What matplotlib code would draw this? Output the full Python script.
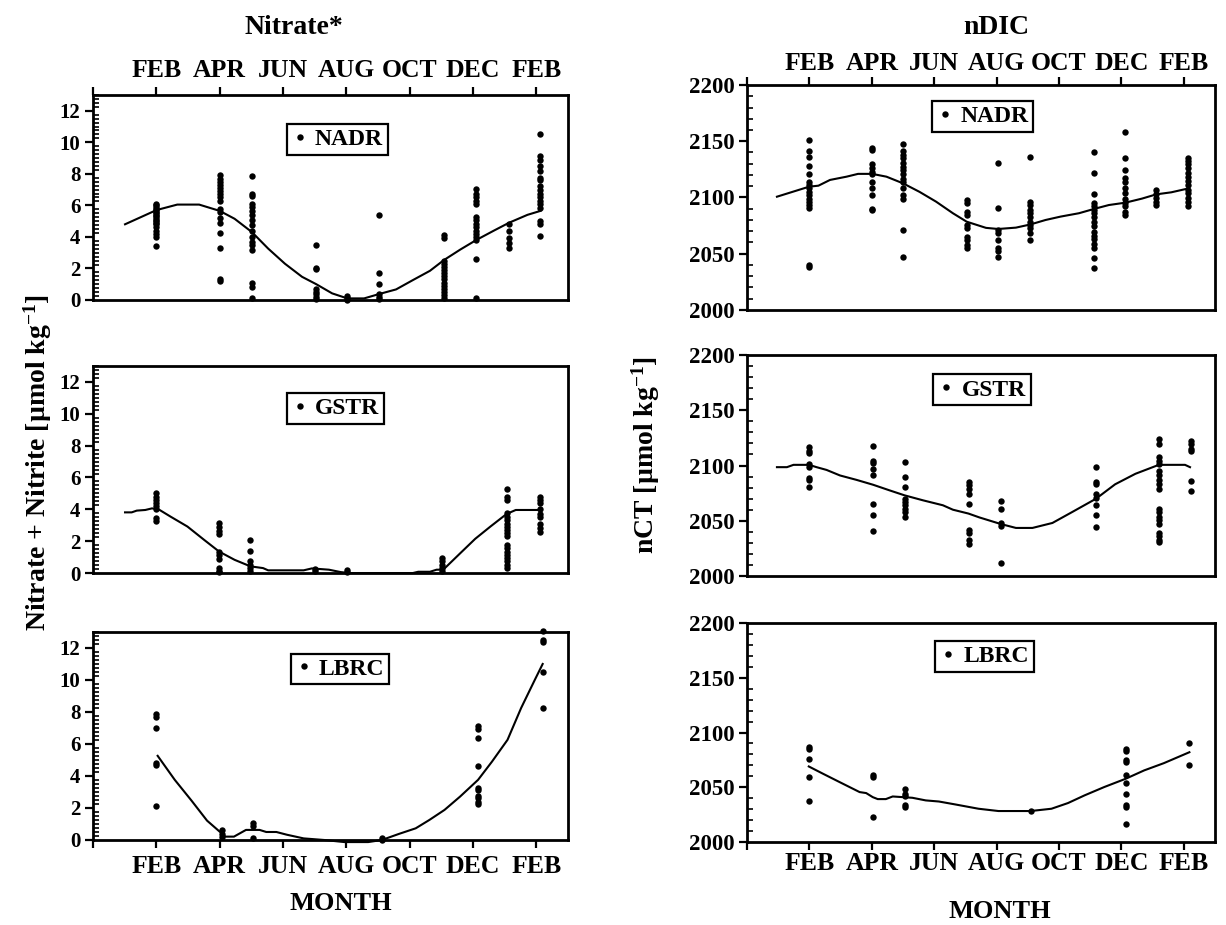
import matplotlib
matplotlib.use("Agg")
import matplotlib.pyplot as plt
from matplotlib.ticker import MultipleLocator
from matplotlib.lines import Line2D

plt.rcParams["font.family"] = ["Liberation Serif", "DejaVu Serif"]
plt.rcParams["font.weight"] = "bold"
plt.rcParams["mathtext.fontset"] = "custom"
plt.rcParams["mathtext.rm"] = "Liberation Serif:bold"
plt.rcParams["mathtext.default"] = "rm"

# month axis: 0 = Dec, 2 = Feb ... 14 = Feb (next year)
month_ticks = [0, 2, 4, 6, 8, 10, 12, 14]
month_labels = ["", "FEB", "APR", "JUN", "AUG", "OCT", "DEC", "FEB"]

# ---- Nitrate*, NADR ----
no3_nadr_x = [2.0, 4.0, 5.02, 7.05, 8.03, 9.04, 11.08, 12.1, 13.14, 14.13]
no3_nadr_y = [
    [6.1, 6.0, 5.9, 5.8, 5.7, 5.6, 5.5, 5.4, 5.3, 5.2, 5.1, 5.0, 4.9, 4.8, 4.6, 4.4, 4.2, 4.0, 3.4],
    [7.9, 7.7, 7.5, 7.3, 7.1, 6.9, 6.7, 6.5, 6.3, 5.8, 5.6, 5.2, 4.9, 4.25, 3.3, 1.35, 1.2],
    [7.85, 6.75, 6.6, 6.1, 5.9, 5.65, 5.4, 5.05, 4.75, 4.4, 4.0, 3.7, 3.5, 3.2, 1.05, 0.85, 0.1],
    [3.5, 2.05, 1.95, 0.7, 0.5, 0.4, 0.2, 0.05],
    [0.25, 0.1, 0.0],
    [5.4, 1.7, 1.0, 0.4, 0.2, 0.05],
    [4.1, 3.9, 2.5, 2.3, 2.1, 1.9, 1.7, 1.5, 1.3, 1.1, 0.9, 0.7, 0.5, 0.3, 0.1],
    [7.05, 6.7, 6.55, 6.3, 6.1, 5.25, 5.05, 4.85, 4.6, 4.4, 4.2, 4.0, 3.8, 2.6, 0.1],
    [4.85, 4.4, 3.9, 3.6, 3.3],
    [10.5, 9.1, 8.85, 8.5, 8.2, 7.75, 7.6, 7.25, 6.95, 6.75, 6.5, 6.3, 6.1, 5.85, 5.0, 4.8, 4.05],
]
no3_nadr_fit_x = [1.01, 2.0, 2.66, 3.35, 4.0, 4.47, 5.02, 5.53, 6.06, 6.6, 7.05, 7.55, 8.03,
                  8.56, 9.04, 9.57, 10.1, 10.64, 11.08, 11.6, 12.1, 12.66, 13.14, 13.72, 14.13]
no3_nadr_fit_y = [4.8, 5.7, 6.05, 6.05, 5.65, 5.15, 4.3, 3.26, 2.3, 1.47, 1.0, 0.42, 0.1,
                  0.1, 0.38, 0.67, 1.26, 1.85, 2.53, 3.2, 3.8, 4.4, 4.9, 5.4, 5.65]

# ---- Nitrate*, GSTR ----
no3_gstr_x = [1.98, 3.98, 4.97, 7.0, 8.03, 11.03, 13.06, 14.1]
no3_gstr_y = [
    [5.0, 4.8, 4.6, 4.4, 4.2, 4.0, 3.45, 3.25],
    [3.17, 2.9, 2.65, 2.45, 1.35, 1.15, 0.9, 0.3, 0.15, 0.05],
    [2.05, 1.4, 0.73, 0.5, 0.3, 0.1],
    [0.25, 0.1],
    [0.2, 0.05],
    [0.95, 0.73, 0.5, 0.3, 0.1],
    [5.3, 4.8, 4.6, 3.75, 3.55, 3.33, 3.1, 2.9, 2.7, 2.5, 2.3, 1.77, 1.56, 1.35, 1.15,
     0.94, 0.73, 0.52, 0.31],
    [4.75, 4.6, 4.4, 4.0, 3.7, 3.5, 3.1, 2.8, 2.55],
]
no3_gstr_fit_x = [1.01, 1.22, 1.38, 1.65, 1.86, 2.07, 2.45, 2.98, 3.51, 3.98, 4.47, 4.97, 5.37,
                  5.53, 5.96, 6.65, 6.91, 7.45, 7.82, 8.09, 10.1, 10.27, 10.64, 10.85, 11.06,
                  11.6, 12.07, 12.55, 13.06, 13.35, 13.99, 14.1]
no3_gstr_fit_y = [3.81, 3.81, 3.92, 3.96, 4.06, 4.0, 3.54, 2.92, 2.08, 1.35, 0.83, 0.42, 0.31,
                  0.17, 0.17, 0.17, 0.29, 0.21, 0.06, 0.0, 0.0, 0.08, 0.08, 0.21, 0.21,
                  1.25, 2.15, 2.92, 3.71, 3.96, 3.96, 3.96]

# ---- Nitrate*, LBRC ----
no3_lbrc_x = [1.98, 4.06, 5.06, 9.12, 12.16, 14.2]
no3_lbrc_y = [
    [7.87, 7.68, 7.0, 4.84, 4.7, 2.13],
    [0.63, 0.38, 0.17],
    [1.04, 0.88, 0.1],
    [0.1, 0.0],
    [7.1, 6.93, 6.37, 4.6, 3.24, 3.1, 2.76, 2.6, 2.4, 2.25],
    [13.05, 12.5, 12.35, 10.5, 8.23],
]
no3_lbrc_fit_x = [2.04, 2.58, 3.11, 3.6, 4.0, 4.18, 4.45, 4.83, 5.26, 5.47, 5.79, 6.12, 6.65,
                  7.3, 7.94, 8.69, 9.12, 9.66, 10.19, 10.62, 11.1, 11.59, 12.16, 12.6, 13.09,
                  13.52, 13.95, 14.2]
no3_lbrc_fit_y = [5.26, 3.76, 2.46, 1.21, 0.52, 0.21, 0.21, 0.63, 0.63, 0.5, 0.5, 0.33, 0.1,
                  0.0, -0.13, -0.13, 0.0, 0.38, 0.73, 1.25, 1.88, 2.71, 3.76, 4.9, 6.26,
                  8.25, 10.0, 11.0]

# ---- nDIC, NADR ----
dic_nadr_x = [1.99, 4.01, 5.0, 7.04, 8.05, 9.08, 11.12, 12.13, 13.12, 14.14]
dic_nadr_y = [
    [2151, 2141, 2136, 2128, 2121, 2113.5, 2111, 2108, 2105, 2102, 2099, 2096, 2093, 2091, 2040, 2038.5],
    [2144, 2142, 2129.5, 2126.5, 2123, 2120.6, 2113.5, 2108, 2102, 2090, 2089],
    [2147.5, 2141, 2138, 2135, 2131, 2127, 2124.4, 2120.6, 2116.4, 2113.5, 2108.7, 2102, 2099, 2071, 2047],
    [2098, 2095, 2087, 2084.4, 2075.6, 2072.6, 2065, 2062, 2058, 2055],
    [2131, 2091, 2071, 2068, 2062, 2055, 2052, 2047],
    [2136, 2096, 2093, 2089, 2086, 2083, 2078.5, 2075.6, 2072.6, 2068, 2062],
    [2140, 2121.5, 2103, 2095, 2092, 2089, 2086, 2083, 2078.5, 2075, 2069.6, 2066, 2063, 2059,
     2055, 2046.5, 2037],
    [2158, 2135, 2124.4, 2117, 2114, 2108.7, 2103.7, 2098.7, 2095, 2092, 2087, 2084],
    [2106.7, 2102.8, 2099.9, 2096, 2093],
    [2135.4, 2132.4, 2129.5, 2126, 2122, 2118.5, 2114.7, 2111, 2106.7, 2103.7, 2099.9, 2096, 2092],
]
dic_nadr_fit_x = [0.96, 1.99, 2.29, 2.66, 3.19, 3.56, 4.01, 4.47, 5.0, 5.53, 6.06, 6.6, 7.04,
                  7.66, 8.05, 8.62, 9.08, 9.57, 10.05, 10.64, 11.12, 11.6, 12.13, 12.66, 13.12,
                  13.6, 14.14]
dic_nadr_fit_y = [2100.7, 2109.6, 2110.5, 2115.6, 2118.5, 2121, 2121, 2118.5, 2112.6, 2105,
                  2096.3, 2086, 2078.5, 2073, 2072, 2073.2, 2076, 2080, 2083, 2086, 2089.8,
                  2093.3, 2095.4, 2099, 2102.8, 2104.6, 2108]

# ---- nDIC, GSTR ----
dic_gstr_x = [1.99, 4.04, 5.05, 7.1, 8.14, 11.19, 13.2, 14.24]
dic_gstr_y = [
    [2116.5, 2113, 2111, 2101, 2098.5, 2088.6, 2086.5, 2080.5],
    [2118, 2104.5, 2102, 2097, 2091, 2065.5, 2055, 2040.5],
    [2103.6, 2089.5, 2080.5, 2070, 2067, 2064, 2061, 2058, 2053.5],
    [2085, 2082, 2079, 2074.5, 2065.5, 2042, 2039, 2032.4, 2029.4],
    [2068, 2060.4, 2048, 2045, 2011.4],
    [2098.5, 2085, 2083.5, 2074.5, 2071, 2064, 2055.5, 2044],
    [2124, 2119.5, 2107.5, 2104.5, 2101, 2095, 2091, 2087, 2083.5, 2079, 2061, 2058, 2053.5,
     2050.5, 2047.5, 2039, 2036, 2033, 2031],
    [2122, 2119.5, 2115, 2113.5, 2085.6, 2076.6],
]
dic_gstr_fit_x = [0.96, 1.28, 1.49, 1.99, 2.23, 2.55, 2.98, 3.51, 4.04, 4.57, 5.05, 5.64, 6.28,
                  6.6, 7.1, 7.45, 8.14, 8.62, 9.15, 9.79, 10.43, 11.19, 11.8, 12.45, 13.2,
                  14.04, 14.2]
dic_gstr_fit_y = [2098.5, 2098.5, 2100.6, 2100.6, 2098.5, 2096, 2091, 2087, 2082.6, 2077.5,
                  2073, 2068.5, 2064, 2060, 2056.5, 2053, 2047, 2043.5, 2043.5, 2048, 2058,
                  2070, 2083, 2092.5, 2100.6, 2100.6, 2098.5]

# ---- nDIC, LBRC ----
dic_lbrc_x = [1.98, 4.03, 5.06, 9.09, 12.14, 14.18]
dic_lbrc_y = [
    [2087.2, 2085, 2076, 2059.3, 2037.4],
    [2061.4, 2059.3, 2022.8],
    [2048.6, 2044, 2041.6, 2033.4, 2032],
    [2028.3],
    [2085, 2082.7, 2075, 2073, 2061.4, 2053.8, 2043.5, 2033.4, 2032, 2016.7],
    [2090.3, 2070.2],
]
dic_lbrc_fit_x = [1.98, 2.44, 2.97, 3.61, 3.82, 4.03, 4.19, 4.45, 4.67, 5.3, 5.73, 6.15, 6.68,
                  7.42, 8.06, 9.09, 9.76, 10.29, 10.82, 11.45, 12.14, 12.73, 13.36, 14.18]
dic_lbrc_fit_y = [2069, 2062.3, 2054.7, 2045.6, 2044.7, 2041, 2039.2, 2039.2, 2041.6, 2040.4,
                  2038, 2037, 2034.3, 2030.4, 2028.3, 2028.3, 2030.4, 2035.6, 2042.6, 2050.2,
                  2057.8, 2065.4, 2072, 2082]


def panel(fig, rect, col_x, col_y, fit_x, fit_y, label, ylim, ymajor, yminor,
          xpos, xpad, legend_xy, ytick_size):
    ax = fig.add_axes(rect)
    xs = [x for x, ys in zip(col_x, col_y) for _ in ys]
    vals = [v for ys in col_y for v in ys]
    ax.plot(xs, vals, "o", color="k", ms=4.6, mew=0, clip_on=False)
    ax.plot(fit_x, fit_y, "-", color="k", lw=1.5, clip_on=False)

    ax.set_xlim(0, 15)
    ax.set_ylim(*ylim)
    for s in ax.spines.values():
        s.set_linewidth(2.0)

    ax.yaxis.set_major_locator(MultipleLocator(ymajor))
    ax.yaxis.set_minor_locator(MultipleLocator(yminor))
    ax.tick_params(axis="y", which="major", direction="out", length=6, width=1.6,
                   labelsize=ytick_size, pad=3)
    ax.tick_params(axis="y", which="minor", direction="in", length=4.5, width=1.2)
    for t in ax.get_yticklabels():
        t.set_fontweight("bold")

    if xpos == "none":
        ax.set_xticks([])
    else:
        ax.set_xticks(month_ticks)
        ax.set_xticklabels(month_labels, fontsize=18.5, fontweight="bold")
        if xpos == "top":
            ax.xaxis.tick_top()
        ax.tick_params(axis="x", direction="out", length=6, width=1.6, pad=xpad)

    h = Line2D([], [], marker="o", ls="none", color="k", ms=4.6, mew=0)
    leg = ax.legend([h], [label], loc="center", bbox_to_anchor=legend_xy,
                    fancybox=False, framealpha=1, edgecolor="k",
                    borderpad=0.2, handlelength=0.7, handletextpad=0.3,
                    prop={"family": "Liberation Serif", "weight": "bold", "size": 17})
    leg.get_frame().set_linewidth(1.6)
    return ax


fig = plt.figure(figsize=(12.26, 9.25), dpi=100)

L, WL = 0.0759, 0.3874
R, WR = 0.6093, 0.3817

panel(fig, [L, 0.6757, WL, 0.2216], no3_nadr_x, no3_nadr_y, no3_nadr_fit_x, no3_nadr_fit_y,
      "NADR", (0, 13), 2, 0.25, "top", 3, (0.514, 0.785), 15)
panel(fig, [L, 0.3805, WL, 0.2238], no3_gstr_x, no3_gstr_y, no3_gstr_fit_x, no3_gstr_fit_y,
      "GSTR", (0, 13), 2, 0.25, "none", 0, (0.51, 0.797), 15)
panel(fig, [L, 0.0919, WL, 0.2249], no3_lbrc_x, no3_lbrc_y, no3_lbrc_fit_x, no3_lbrc_fit_y,
      "LBRC", (0, 13), 2, 0.25, "bottom", 5, (0.52, 0.822), 15)

panel(fig, [R, 0.6649, WR, 0.2432], dic_nadr_x, dic_nadr_y, dic_nadr_fit_x, dic_nadr_fit_y,
      "NADR", (2000, 2200), 50, 10, "top", 1, (0.504, 0.862), 16.5)
panel(fig, [R, 0.3773, WR, 0.2389], dic_gstr_x, dic_gstr_y, dic_gstr_fit_x, dic_gstr_fit_y,
      "GSTR", (2000, 2200), 50, 10, "none", 0, (0.502, 0.842), 16.5)
panel(fig, [R, 0.0897, WR, 0.2368], dic_lbrc_x, dic_lbrc_y, dic_lbrc_fit_x, dic_lbrc_fit_y,
      "LBRC", (2000, 2200), 50, 10, "bottom", 1, (0.508, 0.849), 16.5)

fig.text(294 / 1226, 1 - 28 / 925, "Nitrate*", ha="center", va="center",
         fontsize=20, fontweight="bold")
fig.text(996 / 1226, 1 - 28 / 925, "nDIC", ha="center", va="center",
         fontsize=20, fontweight="bold")
fig.text(38 / 1226, 1 - 463 / 925, r"Nitrate + Nitrite [µmol kg$^{-1}$]", rotation=90,
         ha="center", va="center", fontsize=20, fontweight="bold")
fig.text(646 / 1226, 1 - 455 / 925, r"nCT [µmol kg$^{-1}$]", rotation=90,
         ha="center", va="center", fontsize=20, fontweight="bold")
fig.text(341 / 1226, 1 - 903 / 925, "MONTH", ha="center", va="center",
         fontsize=19, fontweight="bold")
fig.text(1000 / 1226, 1 - 912 / 925, "MONTH", ha="center", va="center",
         fontsize=19, fontweight="bold")

fig.savefig("out.png", dpi=100)
